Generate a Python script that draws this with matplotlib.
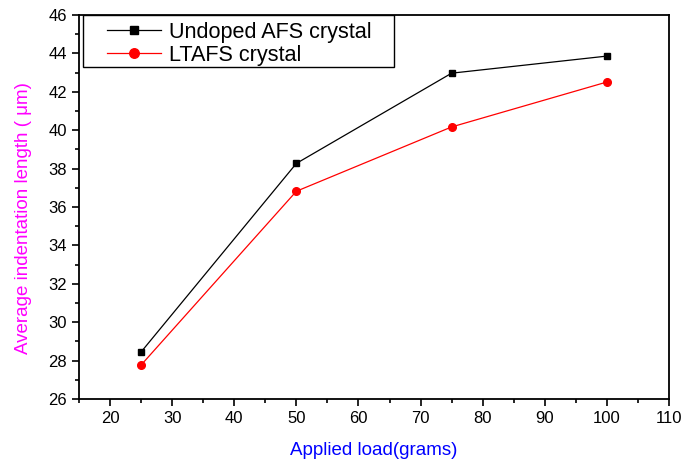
import matplotlib
matplotlib.use("Agg")
import matplotlib.pyplot as plt
from matplotlib.ticker import MultipleLocator
from matplotlib.patches import Rectangle

plt.rcParams['font.family'] = ['Liberation Sans', 'DejaVu Sans']

# applied load in grams
load = [25, 50, 75, 100]
# average indentation length (um)
undoped = [28.45, 38.27, 42.97, 43.86]
ltafs = [27.77, 36.82, 40.17, 42.51]

fig = plt.figure(figsize=(6.86, 4.66), dpi=100)
ax = fig.add_axes([79 / 686, 1 - 399 / 466, 590 / 686, 384 / 466])

ax.plot(load, undoped, color="black", marker="s", markersize=5, lw=0.9, label="Undoped AFS crystal")
ax.plot(load, ltafs, color="red", marker="o", markersize=5.5, lw=0.9, label="LTAFS crystal")

ax.set_xlim(15, 110)
ax.set_ylim(26, 46)
ax.xaxis.set_major_locator(MultipleLocator(10))
ax.xaxis.set_minor_locator(MultipleLocator(5))
ax.yaxis.set_major_locator(MultipleLocator(2))
ax.yaxis.set_minor_locator(MultipleLocator(1))
ax.tick_params(which="major", direction="out", length=5, width=1.2, labelsize=12, top=False, right=False)
ax.tick_params(which="minor", direction="out", length=3, width=1.2, top=False, right=False)
for s in ax.spines.values():
    s.set_linewidth(1.3)

ax.set_xlabel("Applied load(grams)", color="blue", fontsize=13.5, labelpad=12)
ax.set_ylabel("Average indentation length ( \u03bcm)", color="magenta", fontsize=13.5)
ax.yaxis.set_label_coords(-0.08, 0.47)

# legend without its own frame, box drawn separately (wider left padding like the original)
leg = ax.legend(loc="upper left", fontsize=15.6, frameon=False,
                bbox_to_anchor=(0.0475, 0.982), borderaxespad=0, borderpad=0,
                handlelength=2.5, handletextpad=0.35, labelspacing=0.08,
                markerscale=1.25)
ax.add_patch(Rectangle((0.007, 0.865), 0.527, 0.135, transform=ax.transAxes,
                       fill=False, edgecolor="black", lw=1.0, zorder=5))

fig.savefig("out.png", dpi=100)
